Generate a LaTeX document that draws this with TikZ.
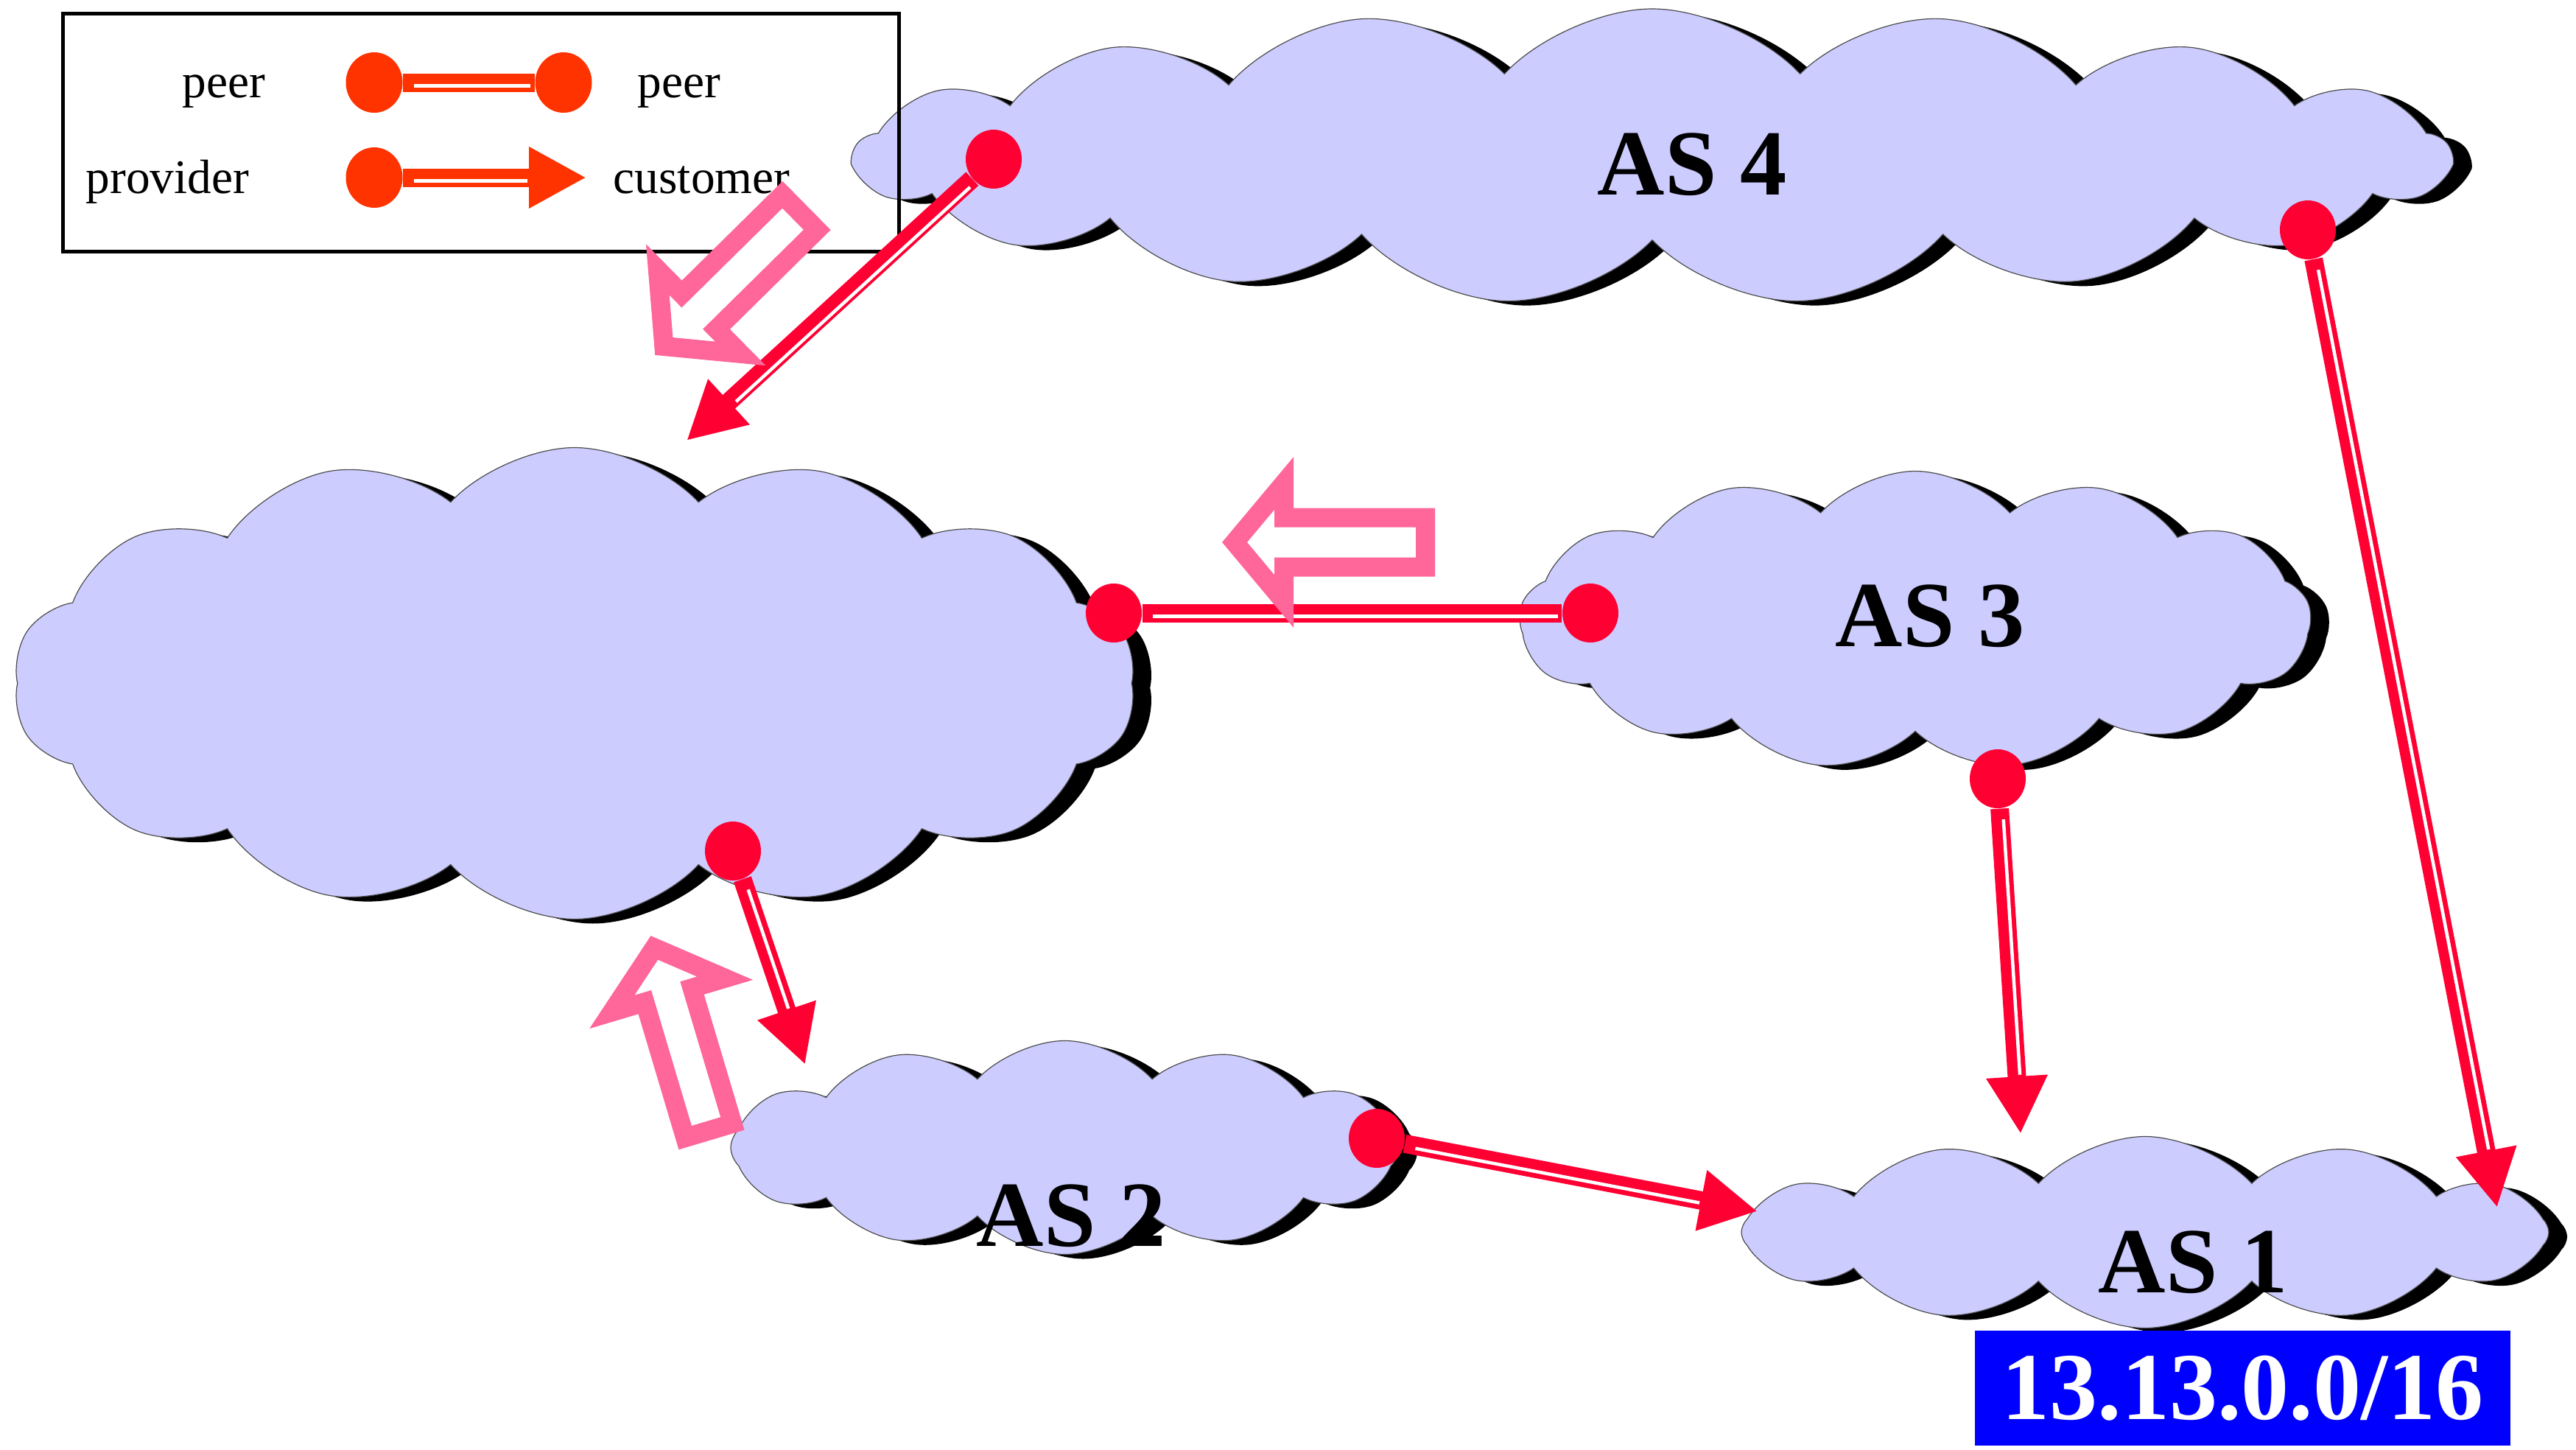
\documentclass[tikz,border=0pt]{standalone}
\usepackage{fontspec}
\setmainfont{Liberation Serif}
\usetikzlibrary{arrows.meta,shapes.symbols,shapes.geometric,shadows,calc}
\definecolor{asfill}{HTML}{CCCCFF}
\definecolor{linkred}{HTML}{FF0033}
\definecolor{legendred}{HTML}{FF3300}
\definecolor{routepink}{HTML}{FF6699}
\definecolor{prefixblue}{HTML}{0000FF}
\tikzset{
  as_cloud/.style = {cloud, cloud ignores aspect, cloud puffs=#1,
    cloud puff arc=95, fill=asfill, draw=black!70, line width=0.012cm,
    general shadow={fill=black, shadow xshift=0.25cm, shadow yshift=-0.06cm}},
  as_label/.style = {font=\fontsize{36}{40}\selectfont\bfseries, inner sep=0pt},
  gw_dot/.style = {ellipse, fill=linkred, inner sep=0pt,
    minimum width=0.76cm, minimum height=0.8cm},
  leg_dot/.style = {gw_dot, fill=legendred, minimum width=0.77cm,
    minimum height=0.82cm},
  leg_text/.style = {font=\fontsize{18.6}{22}\selectfont, inner sep=0pt},
  pc_link/.style = {draw=linkred, line width=0.25cm},
  leg_link/.style = {pc_link, draw=legendred},
  cust_tip/.style = {-{Triangle[length=0.78cm,width=0.78cm]}},
  stripe/.style = {draw=white, line width=0.045cm,
    transform canvas={shift={(0.045cm,-0.045cm)}}},
  pics/route_arrow/.style = {code={
    \draw[draw=routepink, fill=white, line width=0.26cm]
      (0.13,0.335) -- (2.05,0.335) -- (2.05,0.8) -- (2.72,0)
      -- (2.05,-0.8) -- (2.05,-0.335) -- (0.13,-0.335) -- cycle;
  }}
}
\begin{document}
\begin{tikzpicture}
\useasboundingbox (0,0) rectangle (34.97,-19.68);

% autonomous systems
\node[as_cloud=17, minimum width=21.66cm, minimum height=4cm] (as4) at (22.43,-2.12) {};
\node[as_cloud=14, minimum width=15.24cm, minimum height=6.4cm] (asmid) at (7.8,-9.275) {};
\node[as_cloud=13, minimum width=10.74cm, minimum height=4.05cm] (as3) at (26.0,-8.42) {};
\node[as_cloud=12, minimum width=9.07cm, minimum height=2.9cm] (as2) at (14.455,-15.575) {};
\node[as_cloud=12, minimum width=10.96cm, minimum height=2.6cm] (as1) at (29.12,-16.725) {};

% legend
\draw[line width=0.05cm] (0.85,-0.18) rectangle (12.20,-3.41);
\node[leg_dot] (lgA) at (5.08,-1.12) {};
\node[leg_dot] (lgB) at (7.65,-1.12) {};
\node[leg_dot] (lgC) at (5.08,-2.41) {};
\coordinate (lgD) at (7.96,-2.41);
\draw[leg_link] (lgA) -- (lgB);
\draw[stripe, shorten <=0.1cm, shorten >=0.1cm] (lgA) -- (lgB);
\draw[leg_link, cust_tip] (lgC) -- (lgD);
\draw[stripe, shorten <=0.1cm, shorten >=0.85cm] (lgC) -- (lgD);
\node[leg_text, anchor=base east] (lpeerA) at (3.61,-1.32) {peer};
\node[leg_text, anchor=base west] (lpeerB) at (8.65,-1.32) {peer};
\node[leg_text, anchor=base east] (lprov) at (3.39,-2.62) {provider};
\node[leg_text, anchor=base west] (lcust) at (8.32,-2.62) {customer};

% gateways
\node[gw_dot] (d4a) at (13.49,-2.16) {};
\node[gw_dot] (d4b) at (31.33,-3.12) {};
\node[gw_dot] (dmidR) at (15.12,-8.32) {};
\node[gw_dot] (d3a) at (21.59,-8.32) {};
\node[gw_dot] (d3b) at (27.12,-10.57) {};
\node[gw_dot] (dmidB) at (9.95,-11.55) {};
\node[gw_dot] (d2) at (18.69,-15.45) {};

\coordinate (e4a) at (9.32,-5.98);
\coordinate (e4b) at (33.90,-16.39);
\coordinate (e3) at (27.43,-15.39);
\coordinate (emid) at (10.93,-14.45);
\coordinate (e2) at (23.86,-16.44);

% provider -> customer and peer links
\foreach \src/\dst in {d4a/e4a, d4b/e4b, d3b/e3, dmidB/emid, d2/e2} {
  \draw[pc_link, cust_tip] (\src) -- (\dst);
  \draw[stripe, shorten <=0.1cm, shorten >=0.85cm] (\src) -- (\dst);
}
\draw[pc_link] (dmidR) -- (d3a);
\draw[stripe, shorten <=0.1cm, shorten >=0.1cm] (dmidR) -- (d3a);

% route announcements
\pic (adv4) [rotate=224.6] at (10.95,-2.79) {route_arrow};
\pic (adv3) [rotate=180] at (19.48,-7.36) {route_arrow};
\pic (adv2) [rotate=106.6] at (9.66,-15.47) {route_arrow};

\node[as_label] (l4) at (22.97,-2.23) {AS 4};
\node[as_label] (l3) at (26.2,-8.36) {AS 3};
\node[as_label] (l2) at (14.54,-16.5) {AS 2};
\node[as_label] (l1) at (29.77,-17.13) {AS 1};

\node[fill=prefixblue, text=white, minimum width=7.27cm, minimum height=1.56cm,
  font=\fontsize{37}{40}\selectfont\bfseries] (pfx) at (30.445,-18.84) {13.13.0.0/16};
\end{tikzpicture}
\end{document}
